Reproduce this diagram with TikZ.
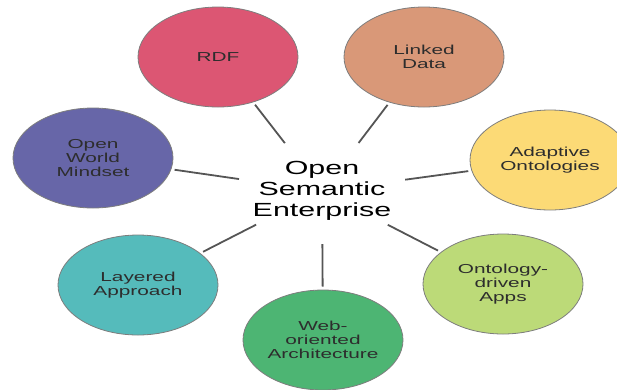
\documentclass[tikz,border=0pt]{standalone}
\usepackage{fontspec}
\setmainfont{Liberation Sans}
\usetikzlibrary{shapes.geometric}
\definecolor{cRDF}{RGB}{220,86,115}
\definecolor{cOWM}{RGB}{103,102,168}
\definecolor{cLD}{RGB}{217,152,120}
\definecolor{cAO}{RGB}{252,218,118}
\definecolor{cLA}{RGB}{85,187,187}
\definecolor{cWOA}{RGB}{77,181,115}
\definecolor{cODA}{RGB}{188,218,120}
\definecolor{edgegray}{RGB}{125,125,125}
\definecolor{linkgray}{RGB}{85,85,85}
\definecolor{txtgray}{RGB}{45,45,45}
\tikzset{
  topic/.style={circle, minimum size=100pt, inner sep=0pt, xscale=1.6, transform shape,
    draw=edgegray, line width=0.8pt, align=center, text=txtgray,
    font=\fontsize{13}{14}\selectfont},
  hub/.style={circle, minimum size=106pt, inner sep=0pt, xscale=1.6, transform shape,
    align=center, text=black, font=\fontsize{19}{21}\selectfont},
  link/.style={draw=linkgray, line width=1.8pt, shorten >=3pt}
}
\begin{document}
\begin{tikzpicture}[x=1pt,y=-1pt]
\useasboundingbox (0,0) rectangle (617,389);
\node[hub] (ose) at (322,191) {Open\\Semantic\\Enterprise};
\node[topic, fill=cRDF] (rdf) at (218,57) {RDF};
\node[topic, fill=cLD] (ld) at (424,57) {Linked\\Data};
\node[topic, fill=cOWM] (owm) at (93,158) {Open\\World\\Mindset};
\node[topic, fill=cAO] (ao) at (550,160) {Adaptive\\Ontologies};
\node[topic, fill=cLA] (la) at (138,285) {Layered\\Approach};
\node[topic, fill=cODA] (oda) at (503,284) {Ontology-\\driven\\Apps};
\node[topic, fill=cWOA] (woa) at (323,340) {Web-\\oriented\\Architecture};
\draw[link] (ose) -- (rdf);
\draw[link] (ose) -- (ld);
\draw[link] (ose) -- (owm);
\draw[link] (ose) -- (ao);
\draw[link] (ose) -- (la);
\draw[link] (ose) -- (oda);
\draw[link] (ose) -- (woa);
\end{tikzpicture}
\end{document}
